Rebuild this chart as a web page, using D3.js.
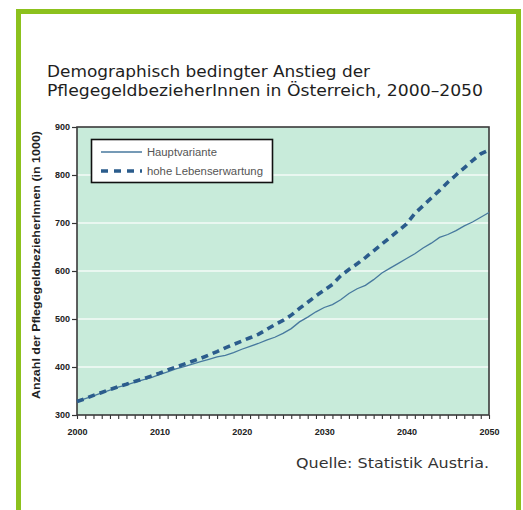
<!DOCTYPE html>
<html>
<head>
<meta charset="utf-8">
<script src="https://cdn.jsdelivr.net/npm/d3@7"></script>
<style>
  html, body { margin: 0; padding: 0; background: #fff; }
  svg { display: block; }
</style>
</head>
<body>
<svg id="chart" width="523" height="510"></svg>
<script>
// Pflegegeld recipients in Austria (thousands), yearly 2000–2050
const years = d3.range(2000, 2051);
const hauptvariante = [
  328, 334, 340, 346, 352, 358, 363, 368, 373, 378,
  384, 390, 396, 401, 406, 411, 416, 421, 424, 430,
  437, 443, 449, 456, 462, 470, 480, 494, 504, 515,
  524, 530, 540, 553, 563, 570, 582, 596, 606, 616,
  626, 636, 648, 658, 670, 676, 684, 694, 702, 712,
  722
];
const hoheLebenserwartung = [
  328, 334, 341, 347, 353, 359, 364, 370, 375, 381,
  387, 394, 400, 406, 412, 418, 425, 432, 440, 447,
  454, 461, 468, 478, 488, 497, 508, 522, 535, 548,
  560, 572, 590, 603, 615, 628, 642, 656, 670, 684,
  698, 720, 736, 752, 768, 785, 800, 815, 830, 844,
  852
];
const seriesNames = ["Hauptvariante", "hohe Lebenserwartung"];
const yTicks = [300, 400, 500, 600, 700, 800, 900];
const xTicks = [2000, 2010, 2020, 2030, 2040, 2050];
const titleLines = [
  "Demographisch bedingter Anstieg der",
  "PflegegeldbezieherInnen in Österreich, 2000–2050"
];
const yTitle = "Anzahl der PflegegeldbezieherInnen (in 1000)";
const source = "Quelle: Statistik Austria.";

const svg = d3.select("#chart");

// green frame around the whole graphic
svg.append("rect")
  .attr("x", 18.5).attr("y", 11.5)
  .attr("width", 500).attr("height", 520)
  .attr("fill", "none")
  .attr("stroke", "#8cc11d")
  .attr("stroke-width", 5);

// title
svg.append("g").selectAll("text").data(titleLines).join("text")
  .attr("x", 47)
  .attr("y", (d, i) => 77 + i * 19)
  .attr("font-family", "DejaVu Sans Condensed, DejaVu Sans")
  .attr("font-size", 16)
  .attr("fill", "#1e1e1e")
  .attr("textLength", (d, i) => i === 0 ? 323 : 436)
  .attr("lengthAdjust", "spacingAndGlyphs")
  .text(d => d);

const plot = { left: 77, right: 489, top: 127, bottom: 415 };

const x = d3.scaleLinear().domain([2000, 2050]).range([plot.left, plot.right]);
const y = d3.scaleLinear().domain([300, 900]).range([plot.bottom, plot.top]);

// plot background
svg.append("rect")
  .attr("x", plot.left).attr("y", plot.top)
  .attr("width", plot.right - plot.left)
  .attr("height", plot.bottom - plot.top)
  .attr("fill", "#c8ebda");

// white horizontal gridlines
svg.append("g").selectAll("line")
  .data(yTicks.filter(v => v > 300 && v < 900)).join("line")
  .attr("x1", plot.left).attr("x2", plot.right)
  .attr("y1", d => y(d)).attr("y2", d => y(d))
  .attr("stroke", "#f4fbf7")
  .attr("stroke-width", 1.6);

// y axis
const yAxis = svg.append("g")
  .attr("transform", `translate(${plot.left},0)`)
  .call(d3.axisLeft(y).tickValues(yTicks).tickSize(5).tickPadding(2).tickFormat(d3.format("d")));
yAxis.select(".domain").remove();
yAxis.selectAll(".tick line").attr("stroke", "#333").attr("stroke-width", 1.2);
yAxis.selectAll(".tick text")
  .attr("font-family", "Liberation Sans, Arial")
  .attr("font-weight", "bold")
  .attr("font-size", 9)
  .attr("fill", "#222");

// x axis: a tick for every year, labels every decade
const xAxis = svg.append("g")
  .attr("transform", `translate(0,${plot.bottom})`)
  .call(d3.axisBottom(x).tickValues(years).tickSize(4).tickFormat(""));
xAxis.select(".domain").remove();
xAxis.selectAll(".tick line").attr("stroke", "#333").attr("stroke-width", 1.1);

const xLab = svg.append("g")
  .attr("transform", `translate(0,${plot.bottom})`)
  .call(d3.axisBottom(x).tickValues(xTicks).tickSize(0).tickPadding(14).tickFormat(d3.format("d")));
xLab.select(".domain").remove();
xLab.selectAll(".tick text")
  .attr("font-family", "Liberation Sans, Arial")
  .attr("font-weight", "bold")
  .attr("font-size", 9)
  .attr("fill", "#222");

// plot border
svg.append("rect")
  .attr("x", plot.left).attr("y", plot.top)
  .attr("width", plot.right - plot.left)
  .attr("height", plot.bottom - plot.top)
  .attr("fill", "none")
  .attr("stroke", "#3a3a3a")
  .attr("stroke-width", 1.6);

// y axis title
svg.append("text")
  .attr("transform", `translate(40,${(plot.top + plot.bottom) / 2 - 6}) rotate(-90)`)
  .attr("text-anchor", "middle")
  .attr("font-family", "Liberation Sans, Arial")
  .attr("font-weight", "bold")
  .attr("font-size", 10)
  .attr("fill", "#222")
  .attr("textLength", 268)
  .attr("lengthAdjust", "spacingAndGlyphs")
  .text(yTitle);

// series lines
const line = d3.line()
  .x((d, i) => x(years[i]))
  .y(d => y(d));

svg.append("path")
  .datum(hauptvariante)
  .attr("d", line)
  .attr("fill", "none")
  .attr("stroke", "#47799e")
  .attr("stroke-width", 1.3);

svg.append("path")
  .datum(hoheLebenserwartung)
  .attr("d", line)
  .attr("fill", "none")
  .attr("stroke", "#2b5c8c")
  .attr("stroke-width", 3.6)
  .attr("stroke-dasharray", "7,5");

// legend
const legend = svg.append("g");
legend.append("rect")
  .attr("x", 91.5).attr("y", 139.5)
  .attr("width", 181).attr("height", 43)
  .attr("fill", "#fff")
  .attr("stroke", "#111")
  .attr("stroke-width", 1.6);

const legendStyles = [
  { stroke: "#47799e", width: 1.3, dash: null },
  { stroke: "#2b5c8c", width: 3.6, dash: "7,6" }
];
const legendWidths = [70, 116];
seriesNames.forEach((name, i) => {
  const ly = 152 + i * 19;
  legend.append("line")
    .attr("x1", 101).attr("x2", 142)
    .attr("y1", ly).attr("y2", ly)
    .attr("stroke", legendStyles[i].stroke)
    .attr("stroke-width", legendStyles[i].width)
    .attr("stroke-dasharray", legendStyles[i].dash);
  legend.append("text")
    .attr("x", 147).attr("y", ly + 3.5)
    .attr("font-family", "Liberation Sans, Arial")
    .attr("font-size", 10)
    .attr("fill", "#555")
    .attr("textLength", legendWidths[i])
    .attr("lengthAdjust", "spacingAndGlyphs")
    .text(name);
});

// source note
svg.append("text")
  .attr("x", 489).attr("y", 468)
  .attr("text-anchor", "end")
  .attr("font-family", "DejaVu Sans Condensed, DejaVu Sans")
  .attr("font-size", 14)
  .attr("fill", "#333")
  .attr("textLength", 193)
  .attr("lengthAdjust", "spacingAndGlyphs")
  .text(source);
</script>
</body>
</html>
